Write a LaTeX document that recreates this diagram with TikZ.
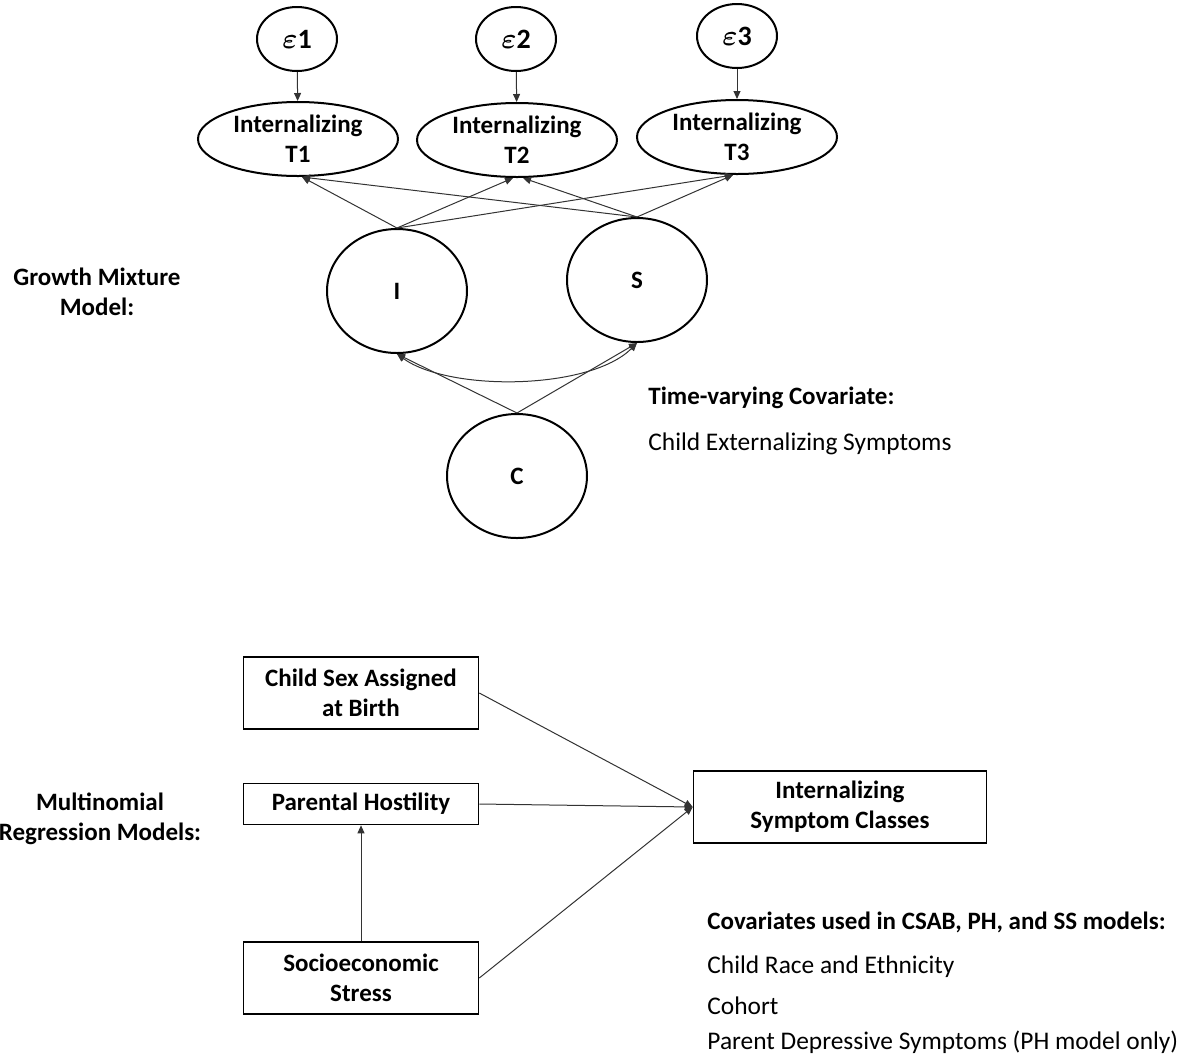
\documentclass[tikz,border=0pt]{standalone}
\usepackage{amsmath,amssymb}
\usepackage{fontspec}
\setmainfont{Carlito}
\usetikzlibrary{arrows.meta,shapes.geometric}
\newcommand\boldtext{\bfseries\fontsize{12.5}{15}\selectfont}
\newcommand\plaintext{\fontsize{12.7}{15}\selectfont}
\newcommand\epsfont{\fontsize{14}{16}\selectfont}
\tikzset{%
    latent/.style={draw, ellipse, line width=1pt, inner sep=0pt, align=center, font=\boldtext},
    observed/.style={draw, rectangle, line width=0.8pt, inner sep=0pt, minimum width=117.5pt, align=center, font=\boldtext},
    path/.style={-{Triangle[length=4pt,width=3.5pt]}, line width=0.5pt, black!80},
    covar/.style={{Triangle[length=4pt,width=3.5pt]}-{Triangle[length=4pt,width=3.5pt]}, line width=0.5pt, black!80},
    heading/.style={inner sep=0pt, align=center, font=\boldtext},
    note/.style={inner sep=0pt, anchor=west, font=\plaintext}
}

\begin{document}
\begin{tikzpicture}[x=0.5pt,y=-0.5pt]
    \useasboundingbox (0,0) rectangle (1190,1057);
%-----------------------------------------------
    \node[latent, minimum width=40pt, minimum height=32pt, font=\epsfont] (e1) at (297,39) {$\boldsymbol{\varepsilon}\mathbf{1}$};
    \node[latent, minimum width=40pt, minimum height=32pt, font=\epsfont] (e2) at (516,39) {$\boldsymbol{\varepsilon}\mathbf{2}$};
    \node[latent, minimum width=40pt, minimum height=32pt, font=\epsfont] (e3) at (737,36) {$\boldsymbol{\varepsilon}\mathbf{3}$};
    \node[latent, minimum width=100pt, minimum height=37pt] (t1) at (298,139) {Internalizing\\T1};
    \node[latent, minimum width=100pt, minimum height=37pt] (t2) at (517,140) {Internalizing\\T2};
    \node[latent, minimum width=100pt, minimum height=37pt] (t3) at (737,137) {Internalizing\\T3};
    \node[latent, minimum width=70pt, minimum height=62pt] (i) at (397,291) {I};
    \node[latent, minimum width=70pt, minimum height=62pt] (s) at (637,280) {S};
    \node[latent, minimum width=70pt, minimum height=62pt] (c) at (517,476) {C};
%-----------------------------------------------
    \draw[path] (e1) -- (t1);
    \draw[path] (e2) -- (t2);
    \draw[path] (e3) -- (t3);
    \draw[path] (i.north) -- ([xshift=2pt]t1.south);
    \draw[path] (i.north) -- ([xshift=-2pt]t2.south);
    \draw[path] (i.north) -- ([xshift=-2pt]t3.south);
    \draw[path] (s.north) -- ([xshift=2pt]t1.south);
    \draw[path] (s.north) -- ([xshift=3pt]t2.south);
    \draw[path] (s.north) -- ([xshift=-2pt]t3.south);
    \draw[path] (c.north) -- (i.south);
    \draw[path] (c.north) -- (s.south);
    \draw[covar] (i.south) .. controls (450,392) and (590,390) .. (s.south);
%-----------------------------------------------
    \node[observed, minimum height=36pt] (csab) at (361,693) {Child Sex Assigned\\at Birth};
    \node[observed, minimum height=20.5pt] (ph) at (361,804) {Parental Hostility};
    \node[observed, minimum height=36pt] (ses) at (361,978) {Socioeconomic\\Stress};
    \node[observed, minimum width=146.5pt, minimum height=36pt] (isc) at (840,807) {Internalizing\\Symptom Classes};
    \draw[path] (csab.east) -- (isc.west);
    \draw[path] (ph.east) -- (isc.west);
    \draw[path] (ses.east) -- (isc.west);
    \draw[path] (ses.north) -- (ph.south);
%-----------------------------------------------
    \node[heading] (gmm) at (97,292) {Growth Mixture\\Model:};
    \node[heading] (mrm) at (100,819) {Multinomial\\Regression Models:};
    \node[note, font=\boldtext] (tvc) at (648,398) {Time-varying Covariate:};
    \node[note] (cext) at (648,444) {Child Externalizing Symptoms};
    \node[note, font=\boldtext] (cov) at (707,922) {Covariates used in CSAB, PH, and SS models:};
    \node[note] (race) at (707,967) {Child Race and Ethnicity};
    \node[note] (cohort) at (707,1006) {Cohort};
    \node[note] (pds) at (707,1042) {Parent Depressive Symptoms (PH model only)};
\end{tikzpicture}
\end{document}
